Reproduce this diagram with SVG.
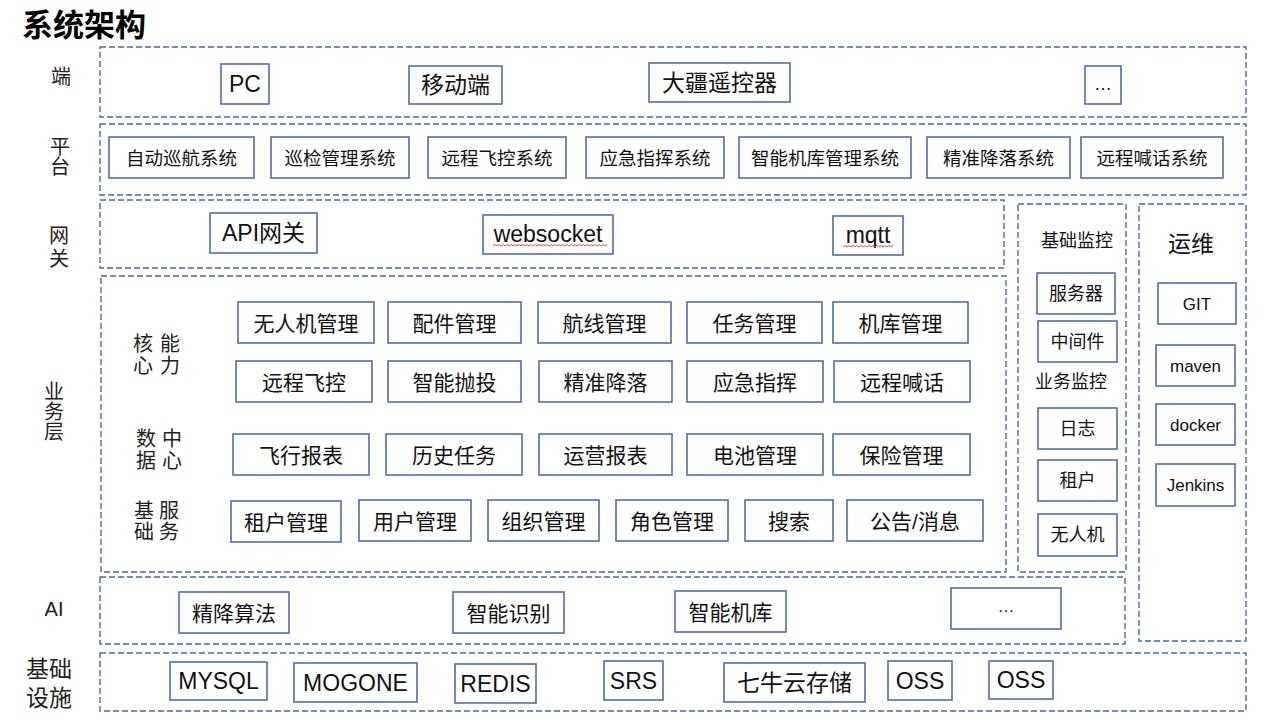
<svg xmlns="http://www.w3.org/2000/svg" width="1277" height="720" viewBox="0 0 1277 720">
<style>
.zone{fill:none;stroke:#4a69a5;stroke-width:1.4;stroke-dasharray:6 3}
.box{fill:#fff;stroke:#4f6fa9;stroke-width:1.6}
text{font-family:"Liberation Sans","Noto Sans CJK SC",sans-serif;fill:#111;text-anchor:middle;dominant-baseline:central}
.t18{font-size:18px}
.t185{font-size:18.5px}
.t20{font-size:20px}
.t21{font-size:21px}
.t23{font-size:23px}
.t17{font-size:17px}
.lab{font-size:20px;fill:#222}
.title{font-size:31px;font-weight:bold;text-anchor:start;fill:#000}
.wave{fill:none;stroke:#e03c3c;stroke-width:0.9}
</style>
<rect width="1277" height="720" fill="#fff"/>
<text class="title" x="22" y="25">系统架构</text>

<g id="zones">
<rect class="zone" x="100" y="47" width="1146" height="70"/>
<rect class="zone" x="100" y="124" width="1146" height="71"/>
<rect class="zone" x="100" y="200" width="904" height="68"/>
<rect class="zone" x="101" y="276" width="905" height="296"/>
<rect class="zone" x="100" y="577" width="1025" height="67"/>
<rect class="zone" x="100" y="653" width="1146" height="58"/>
<rect class="zone" x="1018" y="204" width="108" height="368"/>
<rect class="zone" x="1139" y="204" width="107" height="437"/>
</g>

<g id="row-labels">
<text class="lab" x="61" y="77">端</text>
<text class="lab" x="60" y="147">平</text>
<text class="lab" x="60" y="167">台</text>
<text class="lab" x="59" y="236">网</text>
<text class="lab" x="59" y="259">关</text>
<text class="lab" x="54" y="392">业</text>
<text class="lab" x="54" y="412">务</text>
<text class="lab" x="54" y="432">层</text>
<text class="lab" x="54" y="609">AI</text>
<text class="lab" x="49" y="669" style="font-size:23px">基础</text>
<text class="lab" x="49" y="698" style="font-size:23px">设施</text>
<text class="lab" x="143" y="344">核</text>
<text class="lab" x="170" y="344">能</text>
<text class="lab" x="143" y="366">心</text>
<text class="lab" x="170" y="366">力</text>
<text class="lab" x="146" y="439">数</text>
<text class="lab" x="172" y="439">中</text>
<text class="lab" x="146" y="461">据</text>
<text class="lab" x="172" y="461">心</text>
<text class="lab" x="144" y="511">基</text>
<text class="lab" x="169" y="511">服</text>
<text class="lab" x="144" y="532">础</text>
<text class="lab" x="169" y="532">务</text>
<text class="t18" x="1077" y="241">基础监控</text>
<text class="t18" x="1071" y="382">业务监控</text>
<text class="t23" x="1191" y="244">运维</text>
</g>

<g id="terminal">
<g id="n-pc"><rect class="box" x="221" y="64" width="48" height="40"/><text class="t23" x="245" y="84">PC</text></g>
<g id="n-mobile"><rect class="box" x="409" y="66" width="93" height="38"/><text class="t23" x="455.5" y="85">移动端</text></g>
<g id="n-dji"><rect class="box" x="649" y="63" width="141" height="39"/><text class="t23" x="719.5" y="82.5">大疆遥控器</text></g>
<g id="n-more1"><rect class="box" x="1085" y="66" width="36" height="38"/><text class="t18" x="1103" y="84">…</text></g>
</g>

<g id="platform">
<g id="n-p1"><rect class="box" x="109" y="137" width="145" height="41"/><text class="t185" x="181.5" y="158">自动巡航系统</text></g>
<g id="n-p2"><rect class="box" x="271" y="137" width="138" height="41"/><text class="t185" x="340" y="158">巡检管理系统</text></g>
<g id="n-p3"><rect class="box" x="428" y="137" width="138" height="41"/><text class="t185" x="497" y="158">远程飞控系统</text></g>
<g id="n-p4"><rect class="box" x="586" y="137" width="138" height="41"/><text class="t185" x="655" y="158">应急指挥系统</text></g>
<g id="n-p5"><rect class="box" x="739" y="137" width="172" height="41"/><text class="t185" x="825" y="158">智能机库管理系统</text></g>
<g id="n-p6"><rect class="box" x="927" y="137" width="143" height="41"/><text class="t185" x="998.5" y="158">精准降落系统</text></g>
<g id="n-p7"><rect class="box" x="1081" y="137" width="142" height="41"/><text class="t185" x="1152" y="158">远程喊话系统</text></g>
</g>

<g id="gateway">
<g id="n-api"><rect class="box" x="210" y="213" width="107" height="40"/><text class="t23" x="263.5" y="233">API网关</text></g>
<g id="n-ws"><rect class="box" x="483" y="215" width="130" height="39"/><text class="t23" x="548" y="234">websocket</text>
<path class="wave" d="M493 246 l2 -1.5 l2 1.5 l2 -1.5 l2 1.5 l2 -1.5 l2 1.5 l2 -1.5 l2 1.5 l2 -1.5 l2 1.5 l2 -1.5 l2 1.5 l2 -1.5 l2 1.5 l2 -1.5 l2 1.5 l2 -1.5 l2 1.5 l2 -1.5 l2 1.5 l2 -1.5 l2 1.5 l2 -1.5 l2 1.5 l2 -1.5 l2 1.5 l2 -1.5 l2 1.5 l2 -1.5 l2 1.5 l2 -1.5 l2 1.5 l2 -1.5 l2 1.5 l2 -1.5 l2 1.5 l2 -1.5 l2 1.5 l2 -1.5 l2 1.5 l2 -1.5 l2 1.5 l2 -1.5 l2 1.5 l2 -1.5 l2 1.5 l2 -1.5 l2 1.5 l2 -1.5 l2 1.5 l2 -1.5 l2 1.5 l2 -1.5 l2 1.5 l2 -1.5 l2 1.5 l2 -1.5"/></g>
<g id="n-mqtt"><rect class="box" x="833" y="216" width="70" height="39"/><text class="t23" x="868" y="235">mqtt</text>
<path class="wave" d="M843 247 l2 -1.5 l2 1.5 l2 -1.5 l2 1.5 l2 -1.5 l2 1.5 l2 -1.5 l2 1.5 l2 -1.5 l2 1.5 l2 -1.5 l2 1.5 l2 -1.5 l2 1.5 l2 -1.5 l2 1.5 l2 -1.5 l2 1.5 l2 -1.5 l2 1.5 l2 -1.5 l2 1.5 l2 -1.5 l2 1.5 l2 -1.5"/></g>
</g>

<g id="business">
<g id="n-b11"><rect class="box" x="238" y="302" width="136" height="41"/><text class="t21" x="306" y="323">无人机管理</text></g>
<g id="n-b12"><rect class="box" x="388" y="302" width="133" height="41"/><text class="t21" x="454.5" y="323">配件管理</text></g>
<g id="n-b13"><rect class="box" x="538" y="302" width="133" height="41"/><text class="t21" x="604.5" y="323">航线管理</text></g>
<g id="n-b14"><rect class="box" x="687" y="302" width="135" height="41"/><text class="t21" x="754.5" y="323">任务管理</text></g>
<g id="n-b15"><rect class="box" x="833" y="302" width="135" height="41"/><text class="t21" x="900.5" y="323">机库管理</text></g>
<g id="n-b21"><rect class="box" x="236" y="361" width="136" height="41"/><text class="t21" x="304" y="382">远程飞控</text></g>
<g id="n-b22"><rect class="box" x="388" y="361" width="133" height="41"/><text class="t21" x="454.5" y="382">智能抛投</text></g>
<g id="n-b23"><rect class="box" x="539" y="361" width="133" height="41"/><text class="t21" x="605.5" y="382">精准降落</text></g>
<g id="n-b24"><rect class="box" x="687" y="361" width="136" height="41"/><text class="t21" x="755" y="382">应急指挥</text></g>
<g id="n-b25"><rect class="box" x="834" y="361" width="136" height="41"/><text class="t21" x="902" y="382">远程喊话</text></g>
<g id="n-b31"><rect class="box" x="233" y="434" width="136" height="41"/><text class="t21" x="301" y="455">飞行报表</text></g>
<g id="n-b32"><rect class="box" x="386" y="434" width="136" height="41"/><text class="t21" x="454" y="455">历史任务</text></g>
<g id="n-b33"><rect class="box" x="539" y="434" width="133" height="41"/><text class="t21" x="605.5" y="455">运营报表</text></g>
<g id="n-b34"><rect class="box" x="687" y="434" width="136" height="41"/><text class="t21" x="755" y="455">电池管理</text></g>
<g id="n-b35"><rect class="box" x="833" y="434" width="137" height="41"/><text class="t21" x="901.5" y="455">保险管理</text></g>
<g id="n-b41"><rect class="box" x="231" y="501" width="110" height="41"/><text class="t21" x="286" y="522">租户管理</text></g>
<g id="n-b42"><rect class="box" x="359" y="500" width="112" height="41"/><text class="t21" x="415" y="521">用户管理</text></g>
<g id="n-b43"><rect class="box" x="488" y="500" width="111" height="41"/><text class="t21" x="543.5" y="521">组织管理</text></g>
<g id="n-b44"><rect class="box" x="616" y="500" width="112" height="41"/><text class="t21" x="672" y="521">角色管理</text></g>
<g id="n-b45"><rect class="box" x="745" y="500" width="88" height="41"/><text class="t21" x="789" y="521">搜索</text></g>
<g id="n-b46"><rect class="box" x="847" y="500" width="136" height="41"/><text class="t21" x="915" y="521">公告/消息</text></g>
</g>

<g id="monitoring">
<g id="n-m1"><rect class="box" x="1037" y="273" width="78" height="41"/><text class="t18" x="1076" y="294">服务器</text></g>
<g id="n-m2"><rect class="box" x="1038" y="321" width="79" height="41"/><text class="t18" x="1077.5" y="342">中间件</text></g>
<g id="n-m3"><rect class="box" x="1038" y="408" width="79" height="41"/><text class="t18" x="1077.5" y="429">日志</text></g>
<g id="n-m4"><rect class="box" x="1038" y="460" width="79" height="41"/><text class="t18" x="1077.5" y="481">租户</text></g>
<g id="n-m5"><rect class="box" x="1038" y="514" width="79" height="42"/><text class="t18" x="1077.5" y="535">无人机</text></g>
</g>

<g id="ops">
<g id="n-o1"><rect class="box" x="1158" y="283" width="78" height="41"/><text class="t17" x="1197" y="304">GIT</text></g>
<g id="n-o2"><rect class="box" x="1156" y="345" width="79" height="41"/><text class="t17" x="1195.5" y="366">maven</text></g>
<g id="n-o3"><rect class="box" x="1156" y="404" width="79" height="41"/><text class="t17" x="1195.5" y="425">docker</text></g>
<g id="n-o4"><rect class="box" x="1156" y="464" width="79" height="42"/><text class="t17" x="1195.5" y="485">Jenkins</text></g>
</g>

<g id="ai">
<g id="n-a1"><rect class="box" x="179" y="592" width="110" height="41"/><text class="t21" x="234" y="613">精降算法</text></g>
<g id="n-a2"><rect class="box" x="453" y="592" width="111" height="41"/><text class="t21" x="508.5" y="613">智能识别</text></g>
<g id="n-a3"><rect class="box" x="675" y="591" width="111" height="41"/><text class="t21" x="730.5" y="612">智能机库</text></g>
<g id="n-a4"><rect class="box" x="951" y="588" width="110" height="41"/><text class="t17" x="1006" y="606">…</text></g>
</g>

<g id="infra">
<g id="n-i1"><rect class="box" x="170" y="662" width="97" height="38"/><text class="t23" x="218.5" y="681">MYSQL</text></g>
<g id="n-i2"><rect class="box" x="294" y="663" width="123" height="39"/><text class="t23" x="355.5" y="682.5">MOGONE</text></g>
<g id="n-i3"><rect class="box" x="455" y="664" width="81" height="39"/><text class="t23" x="495.5" y="683.5">REDIS</text></g>
<g id="n-i4"><rect class="box" x="604" y="661" width="59" height="39"/><text class="t23" x="633.5" y="680.5">SRS</text></g>
<g id="n-i5"><rect class="box" x="724" y="663" width="141" height="39"/><text class="t23" x="794.5" y="682.5">七牛云存储</text></g>
<g id="n-i6"><rect class="box" x="888" y="661" width="64" height="39"/><text class="t23" x="920" y="680.5">OSS</text></g>
<g id="n-i7"><rect class="box" x="989" y="661" width="64" height="38"/><text class="t23" x="1021" y="680">OSS</text></g>
</g>

<g id="connectors"></g>
</svg>
